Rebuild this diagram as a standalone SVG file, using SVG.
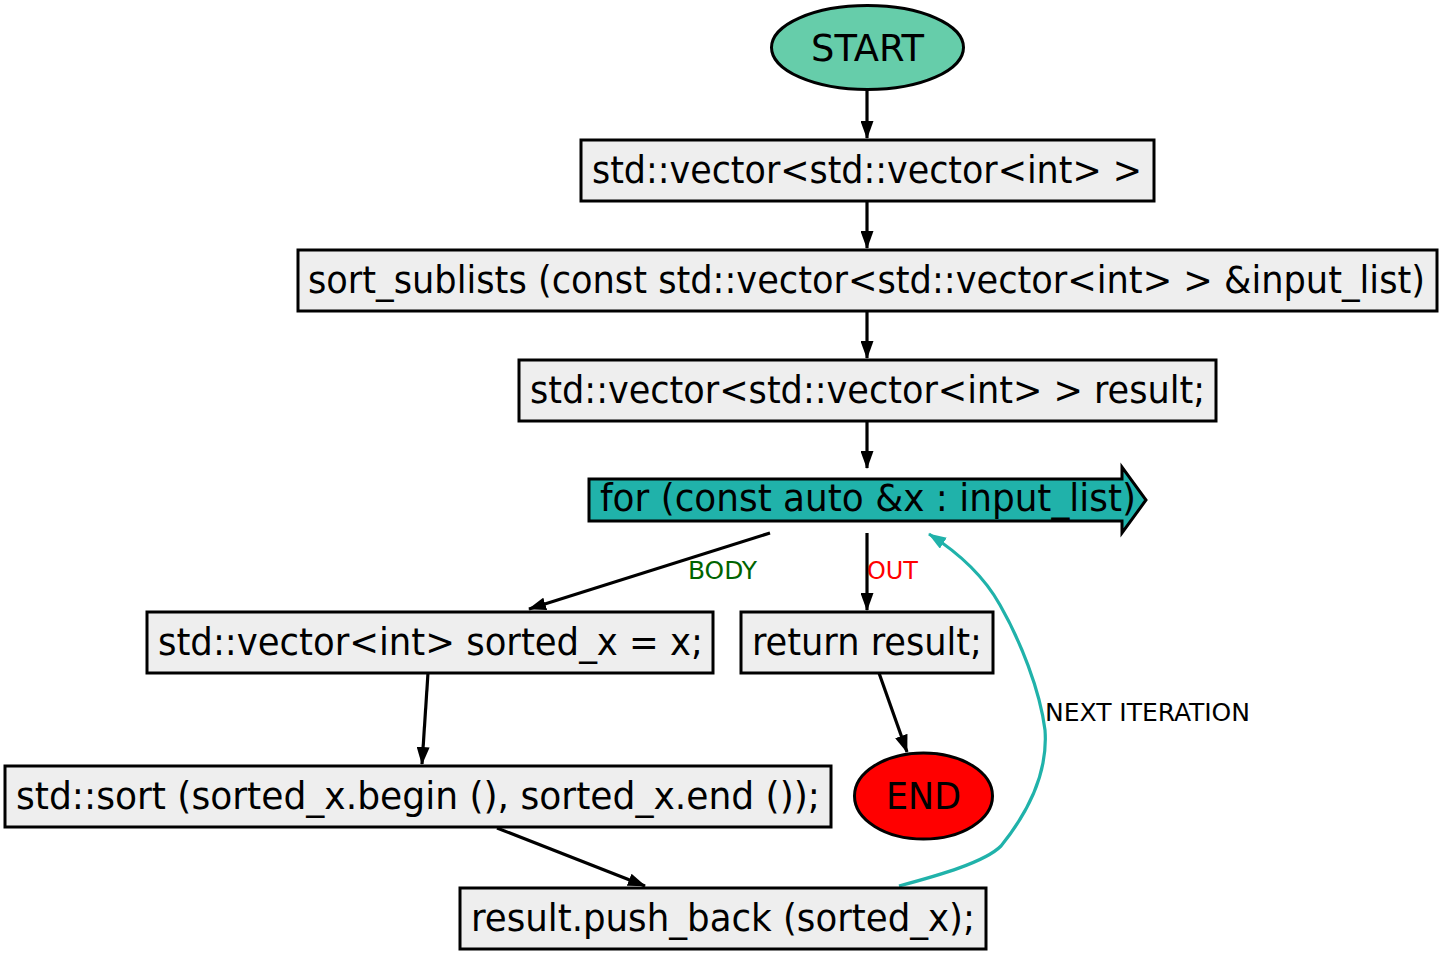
<svg xmlns="http://www.w3.org/2000/svg" width="1442" height="955" viewBox="0 0 1442 955">
<defs>
<style>
.box{fill:#eeeeee;stroke:#000;stroke-width:3}
.t{font-family:"DejaVu Sans Condensed","DejaVu Sans",Verdana,sans-serif;font-size:37px;fill:#000;text-anchor:middle}
.l{font-family:"DejaVu Sans Condensed","DejaVu Sans",Verdana,sans-serif;font-size:25px}
.e{fill:none;stroke:#000;stroke-width:3.2}
</style>
<marker id="ah" viewBox="0 0 18 13" refX="17" refY="6.5" markerWidth="18" markerHeight="13" orient="auto" markerUnits="userSpaceOnUse">
<path d="M0,0 L18,6.5 L0,13 Z" fill="#000"/>
</marker>
<marker id="aht" viewBox="0 0 18 13" refX="17" refY="6.5" markerWidth="18" markerHeight="13" orient="auto" markerUnits="userSpaceOnUse">
<path d="M0,0 L18,6.5 L0,13 Z" fill="#20b2aa"/>
</marker>
</defs>
<rect width="1442" height="955" fill="#fff"/>
<g id="connectors">
<line class="e" x1="867" y1="90" x2="867" y2="138" marker-end="url(#ah)"/>
<line class="e" x1="867" y1="201" x2="867" y2="248" marker-end="url(#ah)"/>
<line class="e" x1="867" y1="311" x2="867" y2="358" marker-end="url(#ah)"/>
<line class="e" x1="867" y1="421" x2="867" y2="468" marker-end="url(#ah)"/>
<line class="e" x1="770" y1="533" x2="529" y2="609" marker-end="url(#ah)"/>
<text class="l" x="688" y="579" fill="#006400" textLength="69" lengthAdjust="spacingAndGlyphs">BODY</text>
<line class="e" x1="867" y1="533" x2="867" y2="610" marker-end="url(#ah)"/>
<text class="l" x="867" y="579" fill="#ff0000" textLength="51" lengthAdjust="spacingAndGlyphs">OUT</text>
<line class="e" x1="428" y1="673" x2="422" y2="764" marker-end="url(#ah)"/>
<line class="e" x1="497" y1="828" x2="645" y2="886" marker-end="url(#ah)"/>
<line class="e" x1="879" y1="673" x2="907" y2="752" marker-end="url(#ah)"/>
<path d="M899,886 C940,875 985,862 1001,846 C1030,810 1048,770 1045,730 C1040,690 1020,640 1000,605 C985,578 962,555 929,534" fill="none" stroke="#20b2aa" stroke-width="3.2" marker-end="url(#aht)"/>
<text class="l" x="1045" y="721" fill="#000" textLength="205" lengthAdjust="spacingAndGlyphs">NEXT ITERATION</text>
</g>
<g id="start">
<ellipse cx="867.5" cy="47.5" rx="96" ry="42" fill="#66cdaa" stroke="#000" stroke-width="3"/>
<text class="t" x="867.5" y="61" textLength="113" lengthAdjust="spacingAndGlyphs">START</text>
</g>
<g id="n1">
<rect class="box" x="581" y="140" width="573" height="61"/>
<text class="t" x="867" y="183" textLength="550" lengthAdjust="spacingAndGlyphs">std::vector&lt;std::vector&lt;int&gt; &gt;</text>
</g>
<g id="n2">
<rect class="box" x="298" y="250" width="1139" height="61"/>
<text class="t" x="866.5" y="293" textLength="1117" lengthAdjust="spacingAndGlyphs">sort_sublists (const std::vector&lt;std::vector&lt;int&gt; &gt; &amp;input_list)</text>
</g>
<g id="n3">
<rect class="box" x="519" y="360" width="697" height="61"/>
<text class="t" x="867.5" y="403" textLength="675" lengthAdjust="spacingAndGlyphs">std::vector&lt;std::vector&lt;int&gt; &gt; result;</text>
</g>
<g id="for">
<polygon points="589,479 1122,479 1122,467 1146,500 1122,533 1122,521 589,521" fill="#20b2aa" stroke="#000" stroke-width="3"/>
<text class="t" x="868" y="511" textLength="536" lengthAdjust="spacingAndGlyphs">for (const auto &amp;x : input_list)</text>
</g>
<g id="n4">
<rect class="box" x="147" y="612" width="566" height="61"/>
<text class="t" x="430.5" y="655" textLength="545" lengthAdjust="spacingAndGlyphs">std::vector&lt;int&gt; sorted_x = x;</text>
</g>
<g id="ret">
<rect class="box" x="741" y="612" width="252" height="61"/>
<text class="t" x="867" y="655" textLength="230" lengthAdjust="spacingAndGlyphs">return result;</text>
</g>
<g id="n5">
<rect class="box" x="5" y="766" width="826" height="61"/>
<text class="t" x="418" y="809" textLength="804" lengthAdjust="spacingAndGlyphs">std::sort (sorted_x.begin (), sorted_x.end ());</text>
</g>
<g id="end">
<ellipse cx="923.5" cy="796" rx="69" ry="43" fill="#ff0000" stroke="#000" stroke-width="3"/>
<text class="t" x="923.5" y="809" textLength="75" lengthAdjust="spacingAndGlyphs">END</text>
</g>
<g id="n6">
<rect class="box" x="460" y="888" width="526" height="61"/>
<text class="t" x="723" y="931" textLength="504" lengthAdjust="spacingAndGlyphs">result.push_back (sorted_x);</text>
</g>
</svg>
